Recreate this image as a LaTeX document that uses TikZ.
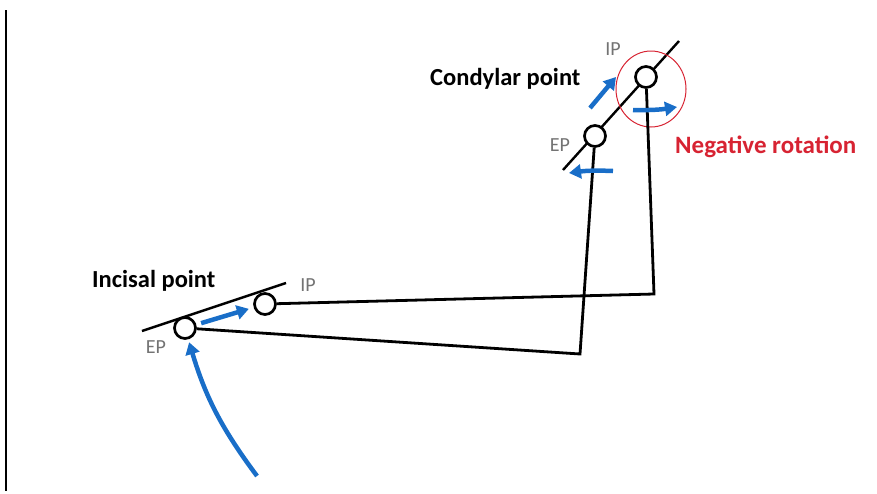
\documentclass[tikz,border=0pt]{standalone}
\usepackage{fontspec}
\setmainfont{Carlito}
\usetikzlibrary{shapes,arrows.meta}
\definecolor{moveblue}{RGB}{25,110,200}
\definecolor{rotred}{RGB}{215,35,50}
\definecolor{tagGray}{RGB}{115,115,115}
\tikzstyle{point} = [circle, draw=black, fill=white, line width=2.7pt, minimum size=21pt, inner sep=0pt]
\tikzstyle{bar} = [line width=2.8pt]
\tikzstyle{move} = [line width=4.5pt, draw=moveblue, -{Triangle[length=12pt,width=14pt]}]
\tikzstyle{title} = [font=\bfseries\fontsize{24.5}{28}\selectfont, anchor=base west, inner sep=0pt]
\tikzstyle{tag} = [font=\fontsize{20}{22}\selectfont, text=tagGray, inner sep=0pt]

\begin{document}
\begin{tikzpicture}[x=1pt, y=-1pt]
\useasboundingbox (0,0) rectangle (877,493);
\draw [line width=1.6pt] (6,10) -- (6,491);

% guide lines under the points
\coordinate (conLow) at (563,170);
\coordinate (conTop) at (679,41);
\coordinate (incLeft) at (142,331);
\coordinate (incRight) at (286,283);
\draw [bar, line width=2.4pt] (conLow) -- (conTop);
\draw [bar, line width=2.4pt] (incLeft) -- (incRight);

\node (conIP) [point] at (646,77) {};
\node (conEP) [point] at (595,136) {};
\node (incIP) [point] at (265,304) {};
\node (incEP) [point] at (185,328) {};
\node (rotzone) [ellipse, draw=rotred, line width=1pt, minimum width=70pt, minimum height=76pt] at (651,89) {};

% mandible outline
\coordinate (kneeIP) at (654,294);
\coordinate (kneeEP) at (580,354);
\draw [bar] (incIP) -- (kneeIP) -- (conIP);
\draw [bar] (incEP) -- (kneeEP) -- (conEP);

% movements
\coordinate (swingStart) at (257,476);
\draw [move, shorten >=3pt] (swingStart) to[bend left=10] (incEP);
\draw [move, shorten <=5pt, shorten >=5pt] (incEP) -- (incIP);
\coordinate (slideTail) at (590,108);
\coordinate (slideTip) at (616,77);
\draw [move] (slideTail) -- (slideTip);
\coordinate (rotIPtail) at (633,110);
\coordinate (rotIPtip) at (677,107);
\draw [move] (rotIPtail) to[bend right=5] (rotIPtip);
\coordinate (rotEPtail) at (613,171);
\coordinate (rotEPtip) at (569,173);
\draw [move] (rotEPtail) to[bend right=5] (rotEPtip);

% labels
\node (conTitle) [title] at (430,85) {Condylar point};
\node (incTitle) [title] at (92,287) {Incisal point};
\node (rotTitle) [title, text=rotred, font=\bfseries\fontsize{25}{28}\selectfont] at (675,153) {Negative rotation};
\node (conIPtag) [tag] at (613,49) {IP};
\node (conEPtag) [tag] at (560,145) {EP};
\node (incIPtag) [tag] at (308,285) {IP};
\node (incEPtag) [tag] at (156,347) {EP};
\end{tikzpicture}
\end{document}
